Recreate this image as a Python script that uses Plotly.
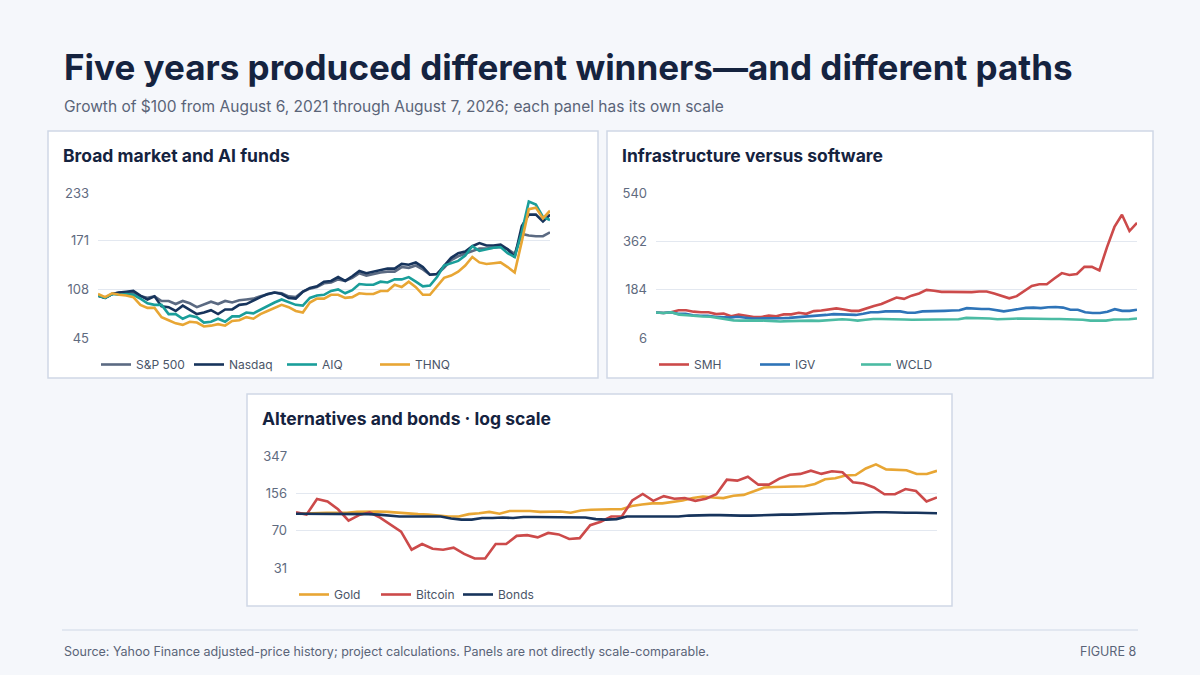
import math
import pandas as pd
import plotly.graph_objects as go

# Growth of $100, roughly monthly, Aug 2021 -> Aug 2026
sp500 = [100, 97, 102, 104, 104, 103, 99, 97, 99, 93, 93, 89, 93, 90, 85, 88, 92, 89, 93, 91, 94, 95, 96, 99,
         102, 104, 103, 99, 98, 105, 109, 111, 116, 117, 121, 119, 123, 129, 126, 128, 130, 131, 131, 137, 136,
         139, 134, 127, 128, 136, 146, 151, 154, 158, 161, 161, 162, 163, 160, 154, 180, 178, 177, 177, 182]
nasdaq = [100, 97, 102, 104, 105, 106, 100, 95, 99, 86, 85, 80, 87, 82, 76, 78, 81, 76, 82, 82, 88, 89, 94, 98,
          102, 104, 102, 97, 96, 105, 110, 112, 118, 119, 124, 119, 125, 132, 129, 131, 133, 135, 135, 141, 140,
          143, 137, 127, 128, 138, 149, 155, 157, 164, 168, 165, 165, 166, 160, 150, 190, 205, 205, 196, 205]
aiq = [100, 97, 102, 101, 102, 101, 96, 90, 88, 88, 76, 76, 70, 74, 72, 65, 66, 70, 66, 73, 73, 78, 77, 82,
       86, 91, 95, 92, 88, 87, 97, 100, 101, 106, 108, 103, 107, 115, 114, 114, 118, 117, 121, 121, 124,
       118, 112, 113, 124, 139, 142, 145, 152, 164, 158, 160, 162, 163, 155, 150, 182, 222, 218, 202, 198]
thnq = [102, 98, 103, 101, 100, 98, 88, 84, 84, 72, 68, 64, 62, 66, 65, 60, 61, 63, 61, 67, 68, 72, 70, 76,
        80, 84, 88, 85, 80, 78, 91, 96, 96, 101, 101, 97, 98, 103, 102, 102, 106, 106, 114, 111, 118, 111,
        101, 101, 112, 123, 126, 131, 139, 150, 143, 141, 142, 143, 137, 130, 170, 212, 214, 200, 210]

smh = [100, 98, 101, 108, 108, 103, 101, 101, 94, 96, 86, 92, 88, 83, 83, 89, 86, 93, 93, 99, 95, 105, 107, 111,
       115, 111, 106, 106, 116, 124, 131, 143, 155, 150, 162, 170, 183, 180, 176, 176, 175, 174, 175, 177, 177,
       170, 160, 152, 160, 178, 198, 204, 204, 225, 245, 238, 242, 268, 268, 255, 340, 415, 460, 400, 430]
igv = [100, 98, 101, 95, 95, 90, 88, 88, 84, 82, 81, 84, 81, 78, 78, 78, 77, 79, 80, 82, 83, 86, 88, 91,
       94, 93, 93, 91, 95, 101, 101, 104, 104, 104, 99, 99, 104, 104, 104, 106, 107, 108, 116, 114, 113,
       113, 108, 104, 108, 112, 117, 118, 116, 119, 120, 118, 110, 110, 101, 98, 98, 103, 112, 106, 106, 110]
wcld = [100, 98, 101, 92, 90, 87, 85, 84, 80, 75, 71, 70, 71, 71, 70, 68, 67, 68, 69, 70, 70, 69, 71, 73, 75,
        73, 70, 73, 76, 76, 76, 76, 74, 73, 73, 74, 74, 75, 75, 75, 80, 80, 79, 78, 75, 75, 77, 78, 77, 76, 76, 76,
        76, 75, 75, 73, 70, 70, 70, 74, 74, 75, 78]

gold = [100, 101, 102, 102, 102, 102, 104, 105, 105, 104, 102, 101, 99, 98, 96, 94, 94, 99, 101, 104, 100,
        106, 106, 106, 104, 105, 105, 102, 107, 109, 110, 110, 110, 118, 122, 125, 125, 129, 133, 140, 145, 142,
        140, 147, 150, 162, 176, 178, 180, 180, 181, 190, 210, 215, 228, 230, 265, 290, 260, 258, 255, 235, 235, 252]
bitcoin = [103, 98, 137, 130, 110, 86, 97, 103, 92, 79, 68, 46, 52, 47, 46, 48, 42, 38, 38, 52, 52, 62, 63,
           60, 66, 64, 58, 59, 78, 84, 94, 94, 133, 153, 132, 146, 138, 140, 132, 138, 152, 208, 204, 222, 187,
           187, 213, 232, 236, 253, 236, 250, 244, 197, 192, 176, 152, 152, 170, 163, 130, 142]
bonds = [100, 100, 100, 100, 100, 100, 100, 99, 98, 96, 94, 94, 94, 95, 94, 90, 88, 88, 91, 91, 92, 91, 93,
         93, 93, 93, 93, 93, 92, 89, 88, 89, 94, 94, 94, 93, 93, 94, 96, 97, 97, 97, 96, 96, 96, 97, 98, 98, 98,
         99, 99, 100, 101, 101, 102, 102, 103, 103, 102, 102, 102, 102, 101]

panels = [
    dict(title="Broad market and AI funds", box=(48, 131, 598, 378), plot=(98, 193, 550, 338),
         yrange=[45, 233], ticks=[45, 108, 171, 233], log=False, entry=48,
         series=[("S&P 500", sp500, "#5b6a82"), ("Nasdaq", nasdaq, "#17345c"),
                 ("AIQ", aiq, "#1a9e9a"), ("THNQ", thnq, "#e8a634")]),
    dict(title="Infrastructure versus software", box=(607, 131, 1153, 378), plot=(656, 193, 1137, 338),
         yrange=[6, 540], ticks=[6, 184, 362, 540], log=False, entry=56,
         series=[("SMH", smh, "#cc4a4a"), ("IGV", igv, "#2e74b8"), ("WCLD", wcld, "#4bbba3")]),
    dict(title="Alternatives and bonds · log scale", box=(247, 394, 952, 606), plot=(296, 456, 937, 568),
         yrange=[31, 347], ticks=[31, 70, 156, 347], log=True, entry=37,
         series=[("Gold", gold, "#e8a634"), ("Bitcoin", bitcoin, "#cc4a4a"), ("Bonds", bonds, "#17345c")]),
]

W, H = 1200, 675
fx = lambda px: px / W
fy = lambda py: 1 - py / H
FONT = "Inter, Roboto, sans-serif"

fig = go.Figure()
shapes, annotations = [], []
for i, p in enumerate(panels, start=1):
    sfx = "" if i == 1 else str(i)
    leg = "legend" + sfx
    for name, vals, col in p["series"]:
        x = pd.date_range("2021-08-06", "2026-08-07", periods=len(vals))
        fig.add_trace(go.Scatter(x=x, y=vals, name=name, mode="lines", line=dict(color=col, width=2.6),
                                 xaxis="x" + sfx, yaxis="y" + sfx, legend=leg))
    x0, y0, x1, y1 = p["plot"]
    yr = [math.log10(v) for v in p["yrange"]] if p["log"] else p["yrange"]
    fig.update_layout({
        "xaxis" + sfx: dict(domain=[fx(x0), fx(x1)], anchor="y" + sfx, visible=False,
                            range=["2021-08-06", "2026-08-07"]),
        "yaxis" + sfx: dict(domain=[fy(y1), fy(y0)], anchor="x" + sfx, type="log" if p["log"] else "linear",
                            range=yr, tickvals=p["ticks"], ticktext=[str(t) for t in p["ticks"]],
                            gridcolor="#e3e8f0", zeroline=False, showline=False, ticks="",
                            tickfont=dict(size=13, color="#5f6b80"), ticklabelstandoff=8),
        leg: dict(orientation="h", x=fx(x0 - 2), y=fy(y1 + 12), xanchor="left", yanchor="top",
                  font=dict(size=12, color="#4a5568"), bgcolor="rgba(0,0,0,0)", entrywidth=p["entry"],
                  itemwidth=30, tracegroupgap=0),
    })
    bx0, by0, bx1, by1 = p["box"]
    shapes.append(dict(type="rect", xref="paper", yref="paper", x0=fx(bx0), x1=fx(bx1), y0=fy(by1), y1=fy(by0),
                       fillcolor="white", line=dict(color="#cfd8e6", width=1.5), layer="below"))
    annotations.append(dict(text="<b>" + p["title"] + "</b>", xref="paper", yref="paper", x=fx(bx0 + 13),
                            y=fy(by0 + 24), xanchor="left", yanchor="middle", showarrow=False,
                            font=dict(size=17.5, color="#15233f")))

shapes.append(dict(type="line", xref="paper", yref="paper", x0=fx(62), x1=fx(1138), y0=fy(630), y1=fy(630),
                   line=dict(color="#cfd8e6", width=1)))
annotations += [
    dict(text="<b>Five years produced different winners—and different paths</b>", xref="paper", yref="paper",
         x=fx(62), y=fy(67), xanchor="left", yanchor="middle", showarrow=False,
         font=dict(size=35, color="#15233f")),
    dict(text="Growth of $100 from August 6, 2021 through August 7, 2026; each panel has its own scale",
         xref="paper", yref="paper", x=fx(62), y=fy(106), xanchor="left", yanchor="middle", showarrow=False,
         font=dict(size=15.5, color="#5a6478")),
    dict(text="Source: Yahoo Finance adjusted-price history; project calculations. Panels are not directly scale-comparable.",
         xref="paper", yref="paper", x=fx(62), y=fy(651), xanchor="left", yanchor="middle", showarrow=False,
         font=dict(size=12.5, color="#5a6478")),
    dict(text="FIGURE 8", xref="paper", yref="paper", x=fx(1138), y=fy(651), xanchor="right", yanchor="middle",
         showarrow=False, font=dict(size=12.5, color="#5a6478")),
]

fig.update_layout(width=W, height=H, margin=dict(l=0, r=0, t=0, b=0, autoexpand=False),
                  paper_bgcolor="#f5f7fb", plot_bgcolor="white", font=dict(family=FONT), shapes=shapes,
                  annotations=annotations, hovermode="x unified")
fig.write_html("out.html", config={"displayModeBar": False},
               post_script="document.body.style.margin='0';document.body.style.overflow='hidden';")
